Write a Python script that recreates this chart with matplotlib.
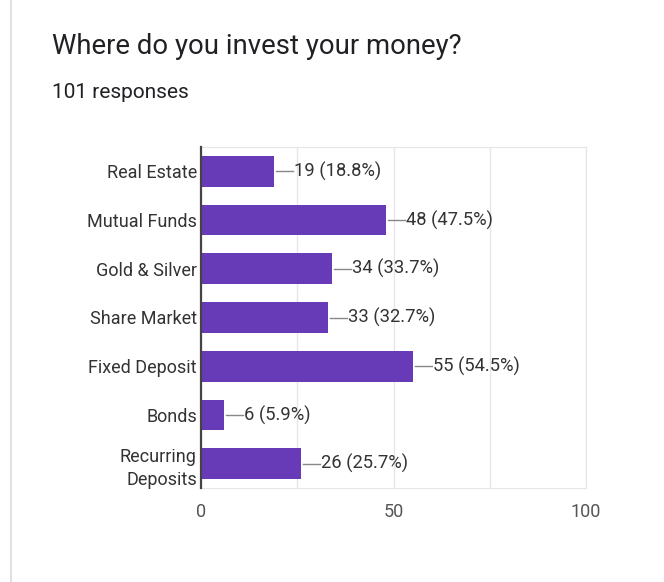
import matplotlib.pyplot as plt
from matplotlib.lines import Line2D

plt.rcParams['font.family'] = ['Roboto', 'DejaVu Sans']

categories = ['Real Estate', 'Mutual Funds', 'Gold & Silver', 'Share Market',
              'Fixed Deposit', 'Bonds', 'Recurring\nDeposits']
counts = [19, 48, 34, 33, 55, 6, 26]
percents = [18.8, 47.5, 33.7, 32.7, 54.5, 5.9, 25.7]
xticks = [0, 50, 100]

purple = '#673AB7'
text_col = '#333333'

fig = plt.figure(figsize=(6.64, 5.82), dpi=100)
fig.patch.set_facecolor('white')

# light page border on the left
fig.add_artist(Line2D([11 / 664, 11 / 664], [0, 1], color='#dadada', lw=1.2,
                      transform=fig.transFigure))

fig.text(52 / 664, 1 - 46 / 582, 'Where do you invest your money?', fontsize=19.8,
         color='#202124', va='center', ha='left')
fig.text(52 / 664, 1 - 92 / 582, '101 responses', fontsize=15,
         color='#202124', va='center', ha='left')

ax = fig.add_axes([201 / 664, 1 - 488 / 582, 385 / 664, 341 / 582])
y = list(range(len(categories)))
ax.barh(y, counts, height=0.63, color=purple, zorder=3)

for yi, c, p in zip(y, counts, percents):
    ax.plot([c + 0.6, c + 5], [yi, yi], color='#888888', lw=1, zorder=3)
    ax.text(c + 5.2, yi, f'{c} ({p}%)', va='center', ha='left',
            fontsize=13.2, color=text_col)

ax.set_xlim(0, 100)
ax.set_ylim(len(categories) - 0.5, -0.5)
ax.set_yticks(y)
ax.set_yticklabels(categories, fontsize=13, color=text_col, linespacing=1.35)
ax.set_xticks(xticks)
ax.set_xticklabels([str(t) for t in xticks], fontsize=13, color='#555555')
ax.set_xticks([25, 75], minor=True)
ax.grid(axis='x', which='both', color='#e6e6e6', lw=1, zorder=0)
ax.tick_params(axis='both', which='both', length=0)
ax.tick_params(axis='x', pad=11)
ax.tick_params(axis='y', pad=3)

for s in ['top', 'right', 'bottom']:
    ax.spines[s].set_color('#e6e6e6')
ax.spines['left'].set_color('#444444')
ax.spines['left'].set_linewidth(1.6)
ax.spines['left'].set_zorder(4)

fig.savefig('out.png', dpi=100)
